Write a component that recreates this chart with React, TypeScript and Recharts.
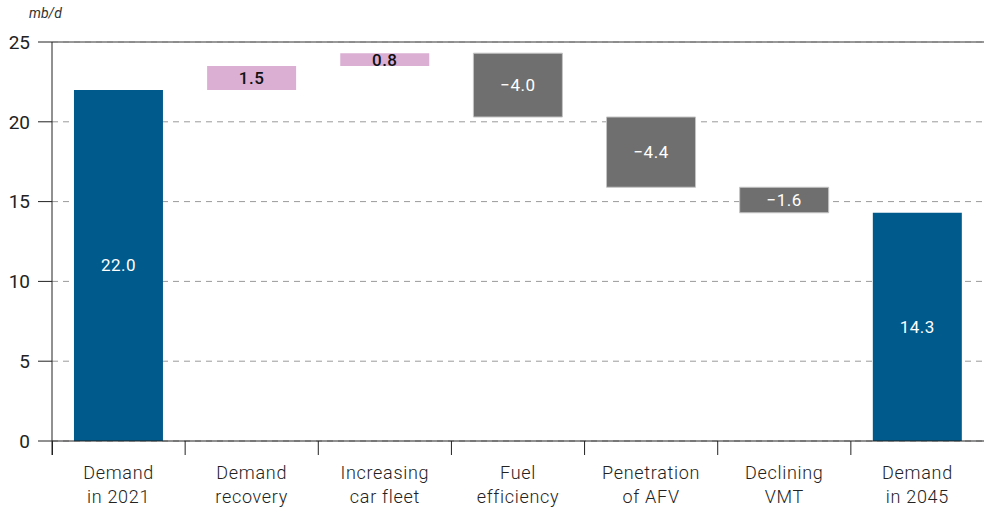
import { BarChart, Bar, XAxis, YAxis, CartesianGrid, ReferenceLine, Cell, LabelList } from "recharts";

const categories = ["Demand|in 2021", "Demand|recovery", "Increasing|car fleet", "Fuel|efficiency", "Penetration|of AFV", "Declining|VMT", "Demand|in 2045"];
const changes = [22.0, 1.5, 0.8, -4.0, -4.4, -1.6, 14.3];
const kinds = ["total", "up", "up", "down", "down", "down", "total"];
const yTicks = [0, 5, 10, 15, 20, 25];

const COLORS: Record<string, string> = { total: "#005a8c", up: "#dbafd3", down: "#6f6f6f" };
const FONT = "Roboto, 'DejaVu Sans', sans-serif";
const HALF_BAND = 932 / 7 / 2;

function buildData() {
  let running = 0;
  return categories.map((name, i) => {
    const v = changes[i];
    const kind = kinds[i];
    let base = 0;
    if (kind === "total") {
      base = 0;
      running = v;
    } else {
      const next = running + v;
      base = Math.min(running, next);
      running = next;
    }
    return { name, base, size: Math.abs(v), value: v, kind };
  });
}

const data = buildData();

function XTick(props: any) {
  const { x, y, payload } = props;
  const lines = String(payload.value).split("|");
  return (
    <g>
      <line x1={x - HALF_BAND} x2={x - HALF_BAND} y1={y - 8} y2={y + 6} stroke="#222" strokeWidth={1} />
      {lines.map((l, i) => (
        <text key={i} x={x} y={y + 30 + i * 24} textAnchor="middle" fontSize={18} letterSpacing={0.7} fill="#222" fontFamily={FONT} fontWeight={300}>
          {l}
        </text>
      ))}
    </g>
  );
}

function BarLabel(props: any) {
  const { x, y, width, height, index } = props;
  const d = data[index];
  const txt = (d.value < 0 ? "\u2212" : "") + Math.abs(d.value).toFixed(1);
  return (
    <text
      x={x + width / 2}
      y={y + height / 2}
      textAnchor="middle"
      dominantBaseline="central"
      fontSize={17}
      letterSpacing={0.5}
      fontWeight={d.kind === "up" ? 500 : 400}
      fill={d.kind === "up" ? "#111" : "#fff"}
      fontFamily={FONT}
    >
      {txt}
    </text>
  );
}

export default function App() {
  return (
    <div style={{ position: "absolute", left: 0, top: 0, width: 984, height: 510, background: "#fff" }}>
      <div style={{ position: "absolute", left: 29, top: 5, fontSize: 14, fontStyle: "italic", fontFamily: FONT, color: "#333" }}>mb/d</div>
      <BarChart width={984} height={510} data={data} margin={{ top: 42, right: 0, bottom: 0, left: 0 }} barCategoryGap="16.5%">
        <CartesianGrid vertical={false} strokeDasharray="6 5" stroke="#9a9a9a" />
        <ReferenceLine y={25} stroke="#777" strokeWidth={1.5} />
        <XAxis
          dataKey="name"
          height={69}
          interval={0}
          axisLine={{ stroke: "#222" }}
          tickLine={false}
          tick={<XTick />}
        />
        <YAxis
          width={52}
          domain={[0, 25]}
          ticks={yTicks}
          axisLine={{ stroke: "#222" }}
          tickLine={{ stroke: "#222" }}
          tickSize={14}
          tickMargin={8}
          tick={{ fontSize: 19, fill: "#222", fontFamily: FONT }}
        />
        <Bar dataKey="base" stackId="w" fill="transparent" isAnimationActive={false} />
        <Bar dataKey="size" stackId="w" isAnimationActive={false}>
          {data.map((d, i) => (
            <Cell key={i} fill={COLORS[d.kind]} stroke={d.kind === "down" ? "#c4c4c4" : "none"} strokeWidth={1} />
          ))}
          <LabelList dataKey="value" content={<BarLabel />} />
        </Bar>
      </BarChart>
      <div style={{ position: "absolute", left: 52, top: 441, width: 1, height: 14, background: "#222" }} />
    </div>
  );
}
